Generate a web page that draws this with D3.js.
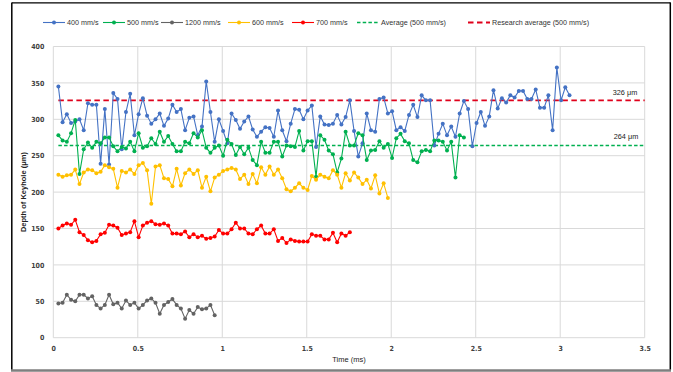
<!DOCTYPE html>
<html><head><meta charset="utf-8">
<script src="https://cdn.jsdelivr.net/npm/d3@7"></script>
<style>
html,body{margin:0;padding:0;background:#fff;}
svg{display:block;font-family:'Liberation Sans','DejaVu Sans',sans-serif;}
</style></head>
<body><svg id="c" width="673" height="372"></svg>
<script>
// ---- data ----
const timeStart = 0.03;   // ms, first sample
const timeStep = 0.025;   // ms, sampling interval
const s400 = [345,296,307,295,297,300,285,322,320,320,239,314,238,336,328,259,310,335,278,307,329,305,294,300,308,291,301,320,310,314,285,302,304,278,290,352,310,269,300,284,267,308,299,287,297,304,286,276,283,
  289,288,276,312,285,270,294,314,313,300,312,319,262,304,293,292,294,306,293,303,326,284,249,267,308,285,283,328,330,308,311,285,289,284,306,320,303,333,326,326,264,280,294,278,290,276,308,
  325,314,263,295,310,291,304,340,315,329,323,333,330,339,339,328,328,341,316,316,333,285,371,326,344,333];
const s500 = [278,271,269,281,299,225,259,268,261,269,267,275,275,263,256,262,260,269,256,281,261,263,274,266,283,269,277,266,256,256,269,267,281,275,285,261,254,261,264,250,272,266,251,262,252,261,
  244,237,269,254,254,269,269,249,264,263,262,284,257,270,270,221,278,272,257,252,227,246,283,264,264,281,278,244,257,258,270,261,266,247,274,280,270,267,244,241,256,258,256,271,271,269,257,269,220,278,275];
const s1200 = [47,48,59,52,50,59,59,54,57,45,40,45,59,46,48,40,51,45,48,40,45,51,54,48,33,45,49,53,45,40,26,38,33,42,39,40,45,31];
const s600 = [224,221,223,224,231,211,227,231,230,226,228,237,234,232,206,229,227,231,225,237,240,230,184,235,237,219,218,208,232,209,226,231,225,230,206,221,201,220,224,229,231,233,231,218,224,211,225,212,
  234,224,235,224,231,219,204,201,206,212,206,203,222,217,224,221,219,230,224,206,226,216,227,220,211,217,205,223,198,212,192];
const s700 = [150,154,157,155,162,145,141,134,131,133,142,144,155,154,151,141,143,145,160,138,154,158,160,156,155,157,154,143,143,142,146,138,142,138,140,136,137,139,148,143,143,149,158,150,
  150,143,142,149,154,143,143,149,133,137,130,135,133,132,132,132,142,140,140,135,135,144,131,143,140,145];
const avg500 = 264;
const researchAvg = 326;
const avgLabels = ["264 μm", "326 μm"];
const seriesNames = ["400 mm/s","500 mm/s","1200 mm/s","600 mm/s","700 mm/s"];
const seriesValues = [s400, s500, s1200, s600, s700];
const seriesColors = ["#4472C4","#00B050","#636363","#FFC000","#FF0000"];
const xTicks = [0,0.5,1,1.5,2,2.5,3,3.5];
const yTicks = [0,50,100,150,200,250,300,350,400];
const xTitle = "Time (ms)";
const yTitle = "Depth of Keyhole (μm)";
const legendNames = ["400 mm/s","500 mm/s","1200 mm/s","600 mm/s","700 mm/s","Average (500 mm/s)","Research average (500 mm/s)"];
const legendX = [43,103,161,228,292,357,468];

// ---- drawing ----
const svg = d3.select("#c");
const x = d3.scaleLinear().domain([0,3.5]).range([53.3,644.7]);
const y = d3.scaleLinear().domain([0,400]).range([337.7,46.5]);

// frame
svg.append("line").attr("x1",12).attr("x2",670.5).attr("y1",2.8).attr("y2",2.8).attr("stroke","#000").attr("stroke-width",1.2);
svg.append("line").attr("x1",11.8).attr("x2",11.8).attr("y1",2.5).attr("y2",370).attr("stroke","#000").attr("stroke-width",1.5);
svg.append("line").attr("x1",670.3).attr("x2",670.3).attr("y1",2.5).attr("y2",370).attr("stroke","#000").attr("stroke-width",1.5);
svg.append("line").attr("x1",11).attr("x2",671).attr("y1",370.5).attr("y2",370.5).attr("stroke","#7f7f7f").attr("stroke-width",2.5);

// grid
const g = svg.append("g");
g.selectAll(".hg").data(yTicks).join("line")
  .attr("x1",x(0)).attr("x2",x(3.5)).attr("y1",d=>y(d)).attr("y2",d=>y(d))
  .attr("stroke","#D9D9D9").attr("stroke-width",1);
g.selectAll(".vg").data(xTicks).join("line")
  .attr("x1",d=>x(d)).attr("x2",d=>x(d)).attr("y1",y(0)).attr("y2",y(400))
  .attr("stroke","#D9D9D9").attr("stroke-width",1);

// axes labels via d3 axes
const xAxis = svg.append("g").attr("transform",`translate(0,${y(0)+4})`)
  .call(d3.axisBottom(x).tickValues(xTicks).tickSize(0).tickFormat(d=>d));
const yAxis = svg.append("g").attr("transform",`translate(${x(0)-4},0)`)
  .call(d3.axisLeft(y).tickValues(yTicks).tickSize(0));
[xAxis,yAxis].forEach(a=>{
  a.select(".domain").remove();
  a.selectAll("text").attr("font-size",7).attr("fill","#404040").attr("font-weight","bold").attr("font-family","'Liberation Sans Narrow','DejaVu Sans Condensed',sans-serif");
});
xAxis.selectAll("text").attr("dy","0.9em");
yAxis.selectAll("text").attr("dx","-2");

svg.append("text").attr("x",(x(0)+x(3.5))/2).attr("y",361.5).attr("text-anchor","middle")
  .attr("font-size",7.5).attr("fill","#222").text(xTitle);
svg.append("text").attr("transform",`translate(25.5,${(y(0)+y(400))/2}) rotate(-90)`).attr("text-anchor","middle")
  .attr("font-size",7.5).attr("font-weight","bold").attr("fill","#222").text(yTitle);

// average lines
svg.append("line").attr("x1",x(timeStart)).attr("x2",x(3.5)).attr("y1",y(avg500)).attr("y2",y(avg500))
  .attr("stroke","#00B050").attr("stroke-width",1.6).attr("stroke-dasharray","3.5,2.2");
svg.append("line").attr("x1",x(timeStart)).attr("x2",x(3.5)).attr("y1",y(researchAvg)).attr("y2",y(researchAvg))
  .attr("stroke","#E0001B").attr("stroke-width",1.8).attr("stroke-dasharray","5.5,3.5");
svg.append("text").attr("x",625).attr("y",y(researchAvg)-5).attr("text-anchor","middle").attr("font-size",7.3).attr("fill","#222").text(avgLabels[1]);
svg.append("text").attr("x",626).attr("y",y(avg500)-7).attr("text-anchor","middle").attr("font-size",7.3).attr("fill","#222").text(avgLabels[0]);

// series (draw order: 400 first, others over)
const line = d3.line().x((d,i)=>x(timeStart+i*timeStep)).y(d=>y(d));
const order = [0,1,3,4,2];
order.forEach(k=>{
  const vals = seriesValues[k];
  const sg = svg.append("g");
  sg.append("path").datum(vals).attr("d",line).attr("fill","none")
    .attr("stroke",seriesColors[k]).attr("stroke-width",1.1);
  sg.selectAll("circle").data(vals).join("circle")
    .attr("cx",(d,i)=>x(timeStart+i*timeStep)).attr("cy",d=>y(d)).attr("r",2)
    .attr("fill",seriesColors[k]);
});

// legend
const legColors = seriesColors.concat(["#00B050","#E0001B"]);
const lg = svg.append("g");
legendNames.forEach((name,i)=>{
  const lx = legendX[i], ly = 22.5;
  if (i < 5) {
    lg.append("line").attr("x1",lx).attr("x2",lx+22).attr("y1",ly).attr("y2",ly).attr("stroke",legColors[i]).attr("stroke-width",1.1);
    lg.append("circle").attr("cx",lx+11).attr("cy",ly).attr("r",2).attr("fill",legColors[i]);
  } else if (i === 5) {
    lg.append("line").attr("x1",lx).attr("x2",lx+22).attr("y1",ly).attr("y2",ly).attr("stroke",legColors[i]).attr("stroke-width",1.6).attr("stroke-dasharray","3.5,2.2");
  } else {
    lg.append("line").attr("x1",lx).attr("x2",lx+22).attr("y1",ly).attr("y2",ly).attr("stroke",legColors[i]).attr("stroke-width",1.8).attr("stroke-dasharray","5.5,3.5");
  }
  lg.append("text").attr("x",lx+24).attr("y",ly+2.6).attr("font-size",7.2).attr("fill","#333").text(name);
});
</script></body></html>
